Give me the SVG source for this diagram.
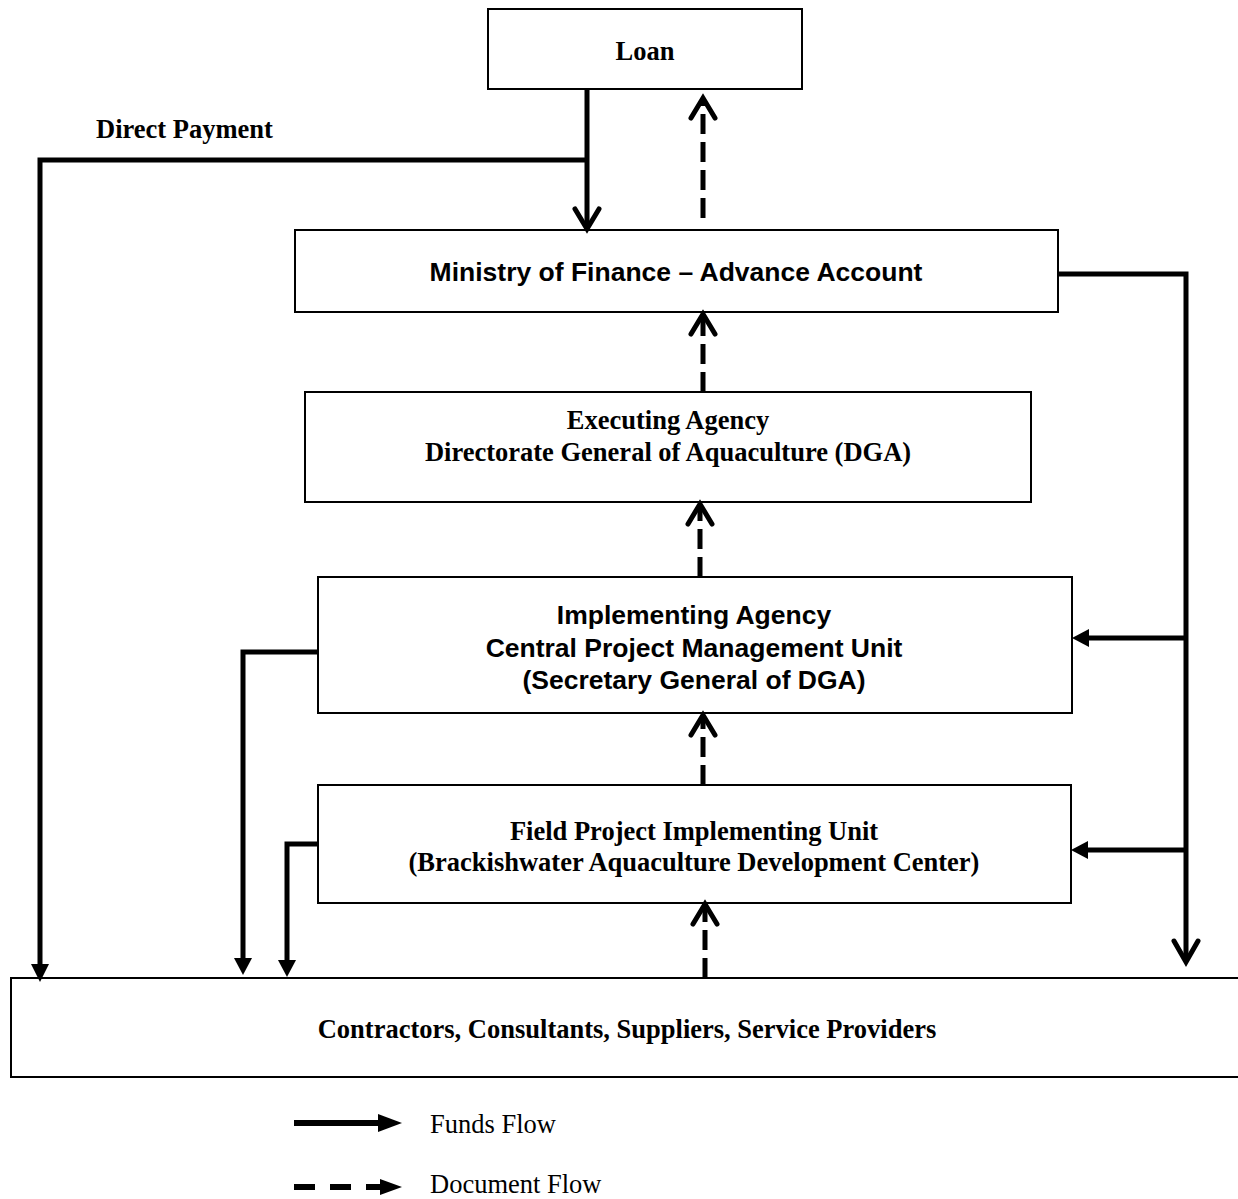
<svg xmlns="http://www.w3.org/2000/svg" width="1238" height="1199" viewBox="0 0 1238 1199">
<style>
.box{fill:#fff;stroke:#000;stroke-width:2}
.serif{font-family:"Liberation Serif","Times New Roman",serif;font-size:26.5px;font-weight:bold;text-anchor:middle;fill:#000}
.sans{font-family:"Liberation Sans",Arial,sans-serif;font-size:26.5px;font-weight:bold;text-anchor:middle;fill:#000}
.leg{font-family:"Liberation Serif","Times New Roman",serif;font-size:26.5px;fill:#000}
.fund{fill:none;stroke:#000;stroke-width:5;stroke-linejoin:miter}
.doc{fill:none;stroke:#000;stroke-width:5;stroke-dasharray:20 8}
.chev{fill:none;stroke:#000;stroke-width:5;stroke-linecap:round;stroke-linejoin:miter}
.tri{fill:#000;stroke:none}
</style>
<rect width="1238" height="1199" fill="#fff"/>
<g id="loan"><rect class="box" x="488" y="9" width="314" height="80"/><text class="serif" x="645" y="60">Loan</text></g>
<g id="mof"><rect class="box" x="295" y="230" width="763" height="82"/><text class="sans" x="676" y="281">Ministry of Finance – Advance Account</text></g>
<g id="ea"><rect class="box" x="305" y="392" width="726" height="110"/><text class="serif" x="668" y="429">Executing Agency</text><text class="serif" x="668" y="461">Directorate General of Aquaculture (DGA)</text></g>
<g id="cpmu"><rect class="box" x="318" y="577" width="754" height="136"/><text class="sans" x="694" y="624">Implementing Agency</text><text class="sans" x="694" y="657">Central Project Management Unit</text><text class="sans" x="694" y="689">(Secretary General of DGA)</text></g>
<g id="fpiu"><rect class="box" x="318" y="785" width="753" height="118"/><text class="serif" x="694" y="840">Field Project Implementing Unit</text><text class="serif" x="694" y="871">(Brackishwater Aquaculture Development Center)</text></g>
<g id="contractors"><rect class="box" x="11" y="978" width="1232" height="99"/><text class="serif" x="627" y="1038">Contractors, Consultants, Suppliers, Service Providers</text></g>
<text class="serif" x="96" y="138" style="text-anchor:start">Direct Payment</text>
<g id="connectors">
<path class="fund" d="M587,89 V228"/>
<path class="chev" d="M575,209 L587,229 L599,209"/>
<path class="fund" d="M587,160 H40 V966"/>
<polygon class="tri" points="31,964 49,964 40,982"/>
<path class="fund" d="M1058,274 H1186 V960"/>
<path class="chev" d="M1174,941 L1186,962 L1198,941"/>
<path class="fund" d="M1186,638 H1086"/>
<polygon class="tri" points="1089,629 1089,647 1072,638"/>
<path class="fund" d="M1186,850 H1085"/>
<polygon class="tri" points="1088,841 1088,859 1071,850"/>
<path class="fund" d="M318,652 H243 V960"/>
<polygon class="tri" points="234,958 252,958 243,975"/>
<path class="fund" d="M318,844 H287 V962"/>
<polygon class="tri" points="278,960 296,960 287,977"/>
<path class="doc" d="M703,218 V100"/>
<path class="chev" d="M691,118 L703,98 L715,118"/>
<path class="doc" d="M703,392 V314"/>
<path class="chev" d="M691,334 L703,314 L715,334"/>
<path class="doc" d="M700,577 V504"/>
<path class="chev" d="M688,524 L700,504 L712,524"/>
<path class="doc" d="M703,785 V715"/>
<path class="chev" d="M691,735 L703,715 L715,735"/>
<path class="doc" d="M705,978 V904"/>
<path class="chev" d="M693,924 L705,904 L717,924"/>
</g>
<g id="legend">
<path d="M294,1123 H380" stroke="#000" stroke-width="6"/>
<polygon class="tri" points="378,1114 378,1132 402,1123"/>
<text class="leg" x="430" y="1133">Funds Flow</text>
<path d="M294,1187 H382" stroke="#000" stroke-width="6" stroke-dasharray="21 15"/>
<polygon class="tri" points="380,1179 380,1195 402,1187"/>
<text class="leg" x="430" y="1193">Document Flow</text>
</g>
</svg>
